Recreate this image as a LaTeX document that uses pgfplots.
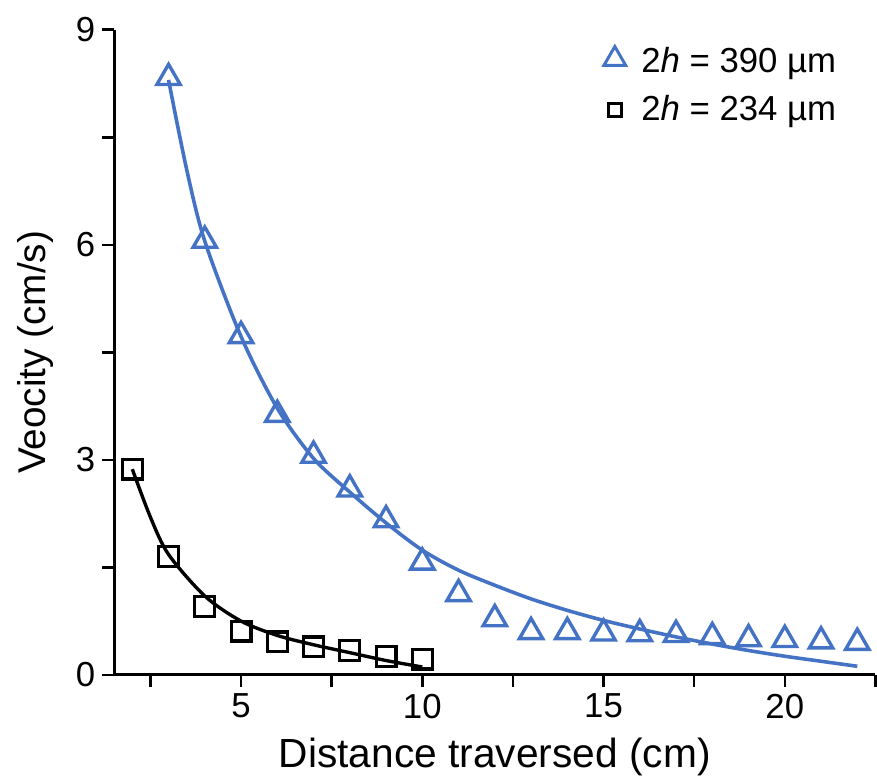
\documentclass[border=0pt]{standalone}
\usepackage{pgfplots}
\pgfplotsset{compat=1.18}
\usepackage{fontspec}
\setmainfont{Liberation Sans}
\definecolor{fitblue}{RGB}{68,114,196}
\begin{document}
\begin{tikzpicture}
\begin{axis}[
  scale only axis,
  width=383.5pt,
  height=325pt,
  xmin=1.5, xmax=22.5,
  ymin=0, ymax=9,
  axis lines=left,
  axis line style={line width=1.6pt,-},
  xtick={5,10,15,20},
  minor xtick={2.5,7.5,12.5,17.5,22.5},
  ytick={0,3,6,9},
  minor ytick={1.5,4.5,7.5},
  tick align=outside,
  major tick length=6pt,
  minor tick length=6pt,
  every tick/.style={black,line width=1.3pt},
  tick label style={font=\fontsize{17.5}{20}\selectfont},
  /pgf/number format/assume math mode=true,
  xlabel={Distance traversed (cm)},
  ylabel={Veocity (cm/s)},
  xlabel style={font=\fontsize{20.5}{24}\selectfont,yshift=-3pt},
  ylabel style={font=\fontsize{19.5}{23}\selectfont,
    at={(axis description cs:-0.104,0.5)},anchor=center},
  clip=false,
  legend cell align=left,
  legend style={draw=none,fill=none,at={(0.962,0.985)},anchor=north east,
    font=\fontsize{17.5}{21}\selectfont,row sep=6pt},
]
  % fitted curves
  \addplot[fitblue,line width=1.8pt,smooth,forget plot] coordinates {
    (3,8.3) (3.5,7.05) (4,6.05) (5,4.72) (6,3.72) (7,3.02) (8,2.55)
    (9,2.12) (10,1.74) (11,1.46) (12,1.25) (13,1.06) (14,0.9) (15,0.76)
    (16,0.64) (17,0.53) (18,0.43) (19,0.34) (20,0.26) (21,0.19) (22,0.12)
  };
  \addplot[black,line width=1.7pt,smooth,forget plot] coordinates {
    (2,2.87) (2.5,2.2) (3,1.68) (4,1.1) (5,0.75) (6,0.55) (7,0.42)
    (8,0.31) (9,0.2) (10,0.11)
  };
  % measured points
  \addplot[only marks,mark=triangle,mark size=6.8pt,
    mark options={fitblue,line width=1.7pt},
    legend image code/.code={\path[draw=none] (-0.3cm,0) -- (0.4cm,0);
      \draw[mark=triangle,mark size=6.3pt,
      mark options={fitblue,line width=1.5pt}] plot coordinates {(0cm,0.05cm)};}]
    coordinates {
    (3,8.33) (4,6.06) (5,4.73) (6,3.63) (7,3.06) (8,2.59) (9,2.16)
    (10,1.57) (11,1.13) (12,0.78) (13,0.6) (14,0.6) (15,0.58) (16,0.57)
    (17,0.56) (18,0.53) (19,0.5) (20,0.49) (21,0.47) (22,0.45)
  };
  \addlegendentry{2\textit{h} = 390 µm}
  \addplot[only marks,mark=square,mark size=5pt,
    mark options={black,line width=1.6pt},
    legend image code/.code={\path[draw=none] (-0.3cm,0) -- (0.4cm,0);
      \draw[mark=square,mark size=3.2pt,
      mark options={black,line width=1.5pt}] plot coordinates {(0cm,0cm)};}]
    coordinates {
    (2,2.87) (3,1.65) (4,0.95) (5,0.61) (6,0.46) (7,0.39) (8,0.34)
    (9,0.26) (10,0.22)
  };
  \addlegendentry{2\textit{h} = 234 µm}
  % margins as in the original figure
  \path[draw=none] (axis description cs:-0.15,0.5)
    -- ([yshift=15pt]axis description cs:-0.15,1);
\end{axis}
\end{tikzpicture}
\end{document}
